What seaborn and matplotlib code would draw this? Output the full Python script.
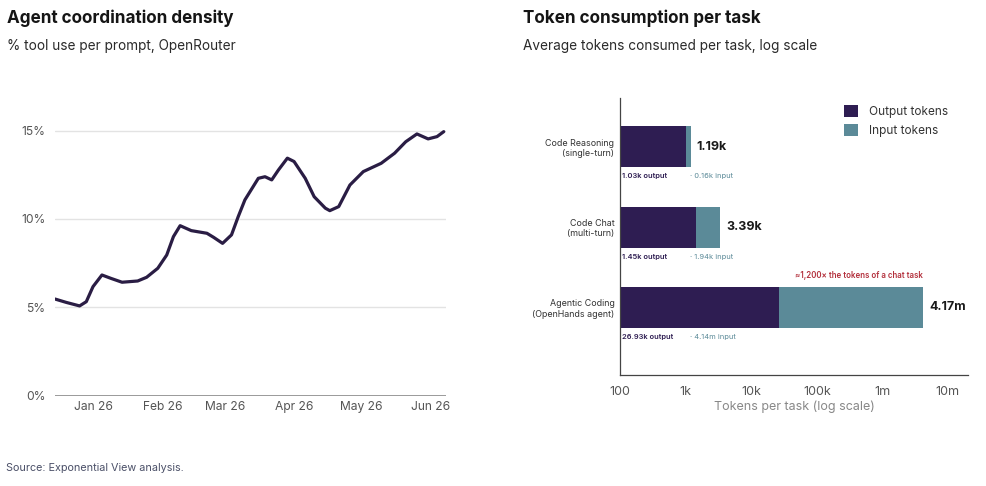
import matplotlib
matplotlib.use("Agg")
import matplotlib.pyplot as plt
import matplotlib.dates as mdates
import matplotlib.transforms as mtrans
from matplotlib.patches import Patch
from matplotlib.ticker import FixedLocator, FuncFormatter, LogLocator, NullFormatter
import numpy as np
import pandas as pd
import seaborn as sns

# ---------------- data ----------------
line_dates = ["2025-12-15", "2025-12-20", "2025-12-26", "2025-12-29", "2026-01-01",
              "2026-01-05", "2026-01-09", "2026-01-14", "2026-01-21", "2026-01-25",
              "2026-01-30", "2026-02-03", "2026-02-06", "2026-02-09", "2026-02-14",
              "2026-02-21", "2026-02-24", "2026-02-28", "2026-03-04", "2026-03-07",
              "2026-03-10", "2026-03-16", "2026-03-19", "2026-03-22", "2026-03-25",
              "2026-03-29", "2026-04-01", "2026-04-06", "2026-04-10", "2026-04-15",
              "2026-04-17", "2026-04-21", "2026-04-26", "2026-05-02", "2026-05-10",
              "2026-05-16", "2026-05-21", "2026-05-26", "2026-05-31", "2026-06-04",
              "2026-06-07"]
line_values = [5.47, 5.28, 5.08, 5.32, 6.17,
               6.83, 6.64, 6.42, 6.49, 6.70,
               7.21, 7.96, 9.00, 9.62, 9.34,
               9.19, 8.96, 8.62, 9.10, 10.13,
               11.08, 12.30, 12.39, 12.21, 12.77,
               13.44, 13.25, 12.30, 11.26, 10.61,
               10.47, 10.70, 11.92, 12.68, 13.15,
               13.72, 14.37, 14.81, 14.53, 14.66,
               14.94]
y_ticks = [0, 5, 10, 15]
month_ticks = ["2026-01-01", "2026-02-01", "2026-03-01", "2026-04-01", "2026-05-01", "2026-06-01"]

categories = ["Code Reasoning\n(single-turn)", "Code Chat\n(multi-turn)", "Agentic Coding\n(OpenHands agent)"]
output_tokens = [1030, 1450, 26930]
input_tokens = [160, 1940, 4140000]
total_labels = ["1.19k", "3.39k", "4.17m"]
output_labels = ["1.03k output", "1.45k output", "26.93k output"]
input_labels = ["· 0.16k input", "· 1.94k input", "· 4.14m input"]
x_ticks = [100, 1e3, 1e4, 1e5, 1e6, 1e7]
x_ticklabels = ["100", "1k", "10k", "100k", "1m", "10m"]
callout = "≈1,200× the tokens of a chat task"

# ---------------- style ----------------
sns.set_theme(style="white")
plt.rcParams["font.family"] = ["Inter", "DejaVu Sans"]

PURPLE = "#2e1d52"
TEAL = "#5b8a98"
LINE = "#2a1d44"
GRAY = "#555555"

fig = plt.figure(figsize=(9.86, 4.86), dpi=100)
fig.patch.set_facecolor("white")

# ---------------- left: line chart ----------------
ax1 = fig.add_axes([0.0558, 0.1858, 0.3965, 0.6084])
df_line = pd.DataFrame({"date": pd.to_datetime(line_dates), "value": line_values})
sns.lineplot(data=df_line, x="date", y="value", ax=ax1, color=LINE, linewidth=2.3,
             solid_joinstyle="round", solid_capstyle="round")
ax1.set_xlim(pd.Timestamp("2025-12-15"), pd.Timestamp("2026-06-08"))
ax1.set_ylim(0, 16.73)
ax1.set_yticks(y_ticks)
ax1.yaxis.set_major_formatter(FuncFormatter(lambda v, p: f"{v:.0f}%"))
ax1.xaxis.set_major_locator(FixedLocator(mdates.date2num(pd.to_datetime(month_ticks))))
ax1.xaxis.set_major_formatter(mdates.DateFormatter("%b %y"))
for y in y_ticks[1:]:
    ax1.axhline(y, color="#e3e3e3", linewidth=1.0, zorder=0)
ax1.axhline(0, color="#9a9a9a", linewidth=1.4, zorder=1)
for s in ax1.spines.values():
    s.set_visible(False)
ax1.tick_params(axis="both", length=0, labelsize=8.7, labelcolor=GRAY)
ax1.tick_params(axis="y", pad=7)
ax1.tick_params(axis="x", pad=4)
ax1.set_xlabel("")
ax1.set_ylabel("")

# ---------------- right: stacked log bar ----------------
ax2 = fig.add_axes([0.6288, 0.2284, 0.3529, 0.57])
totals = [o + i for o, i in zip(output_tokens, input_tokens)]
df_bar = pd.DataFrame({"cat": categories, "total": totals, "output": output_tokens})
ax2.set_xscale("log")
sns.barplot(data=df_bar, y="cat", x="total", ax=ax2, color=TEAL, orient="h",
            width=0.51, saturation=1, linewidth=0)
sns.barplot(data=df_bar, y="cat", x="output", ax=ax2, color=PURPLE, orient="h",
            width=0.51, saturation=1, linewidth=0)
ax2.set_xlim(100, 2.02e7)
ax2.set_ylim(2.84, -0.606)
ax2.xaxis.set_major_locator(FixedLocator(x_ticks))
ax2.set_xticklabels(x_ticklabels)
ax2.xaxis.set_minor_locator(LogLocator(base=10, subs=np.arange(2, 10)))
ax2.xaxis.set_minor_formatter(NullFormatter())
ax2.tick_params(axis="x", which="major", length=4, width=0.8, color="#888888",
                labelsize=9, labelcolor=GRAY, pad=4)
ax2.tick_params(axis="x", which="minor", length=2.5, width=0.6, color="#aaaaaa")
ax2.tick_params(axis="y", length=0, labelsize=6.4, labelcolor="#333333", pad=4)
for lab in ax2.get_yticklabels():
    lab.set_horizontalalignment("right")
    lab.set_multialignment("right")
ax2.set_ylabel("")
ax2.set_xlabel("Tokens per task (log scale)", fontsize=9, color="#888888", labelpad=2)
for side in ["top", "right"]:
    ax2.spines[side].set_visible(False)
for side in ["left", "bottom"]:
    ax2.spines[side].set_color("#444444")
    ax2.spines[side].set_linewidth(0.9)

off = mtrans.offset_copy(ax2.transData, fig=fig, x=6, y=0, units="dots")
blend = mtrans.blended_transform_factory(ax2.transAxes, ax2.transData)
for i, tot in enumerate(totals):
    ax2.text(tot, i, total_labels[i], transform=off, ha="left", va="center",
             fontsize=9, fontweight="bold", color="#1a1a1a")
    ax2.text(0.005, i + 0.37, output_labels[i], transform=blend, ha="left", va="center",
             fontsize=5.4, fontweight="semibold", color=PURPLE)
    ax2.text(0.2, i + 0.37, input_labels[i], transform=blend, ha="left", va="center",
             fontsize=5.4, color=TEAL)
ax2.text(totals[2], 2 - 0.40, callout, ha="right", va="center", fontsize=5.7,
         fontweight="semibold", color="#b3303c")

handles = [Patch(facecolor=PURPLE, edgecolor="none"), Patch(facecolor=TEAL, edgecolor="none")]
ax2.legend(handles, ["Output tokens", "Input tokens"], loc="upper left",
           bbox_to_anchor=(0.645, 0.975), frameon=False, fontsize=8.5,
           handlelength=1.15, handleheight=1.15, handletextpad=0.9, labelspacing=0.55,
           borderaxespad=0, borderpad=0, labelcolor="#333333")

# ---------------- titles ----------------
fig.text(0.007, 1 - 18 / 486, "Agent coordination density", fontsize=12.3, fontweight="bold",
         color="#151515", va="center", ha="left")
fig.text(0.007, 1 - 46 / 486, "% tool use per prompt, OpenRouter", fontsize=9.8,
         color="#2a2a2a", va="center", ha="left")
fig.text(523 / 986, 1 - 18 / 486, "Token consumption per task", fontsize=12.3, fontweight="bold",
         color="#151515", va="center", ha="left")
fig.text(523 / 986, 1 - 46 / 486, "Average tokens consumed per task, log scale", fontsize=9.8,
         color="#2a2a2a", va="center", ha="left")
fig.text(0.006, 1 - 468 / 486, "Source: Exponential View analysis.", fontsize=7.8,
         color="#4b5068", va="center", ha="left")

fig.savefig("out.png", dpi=100, facecolor="white")
